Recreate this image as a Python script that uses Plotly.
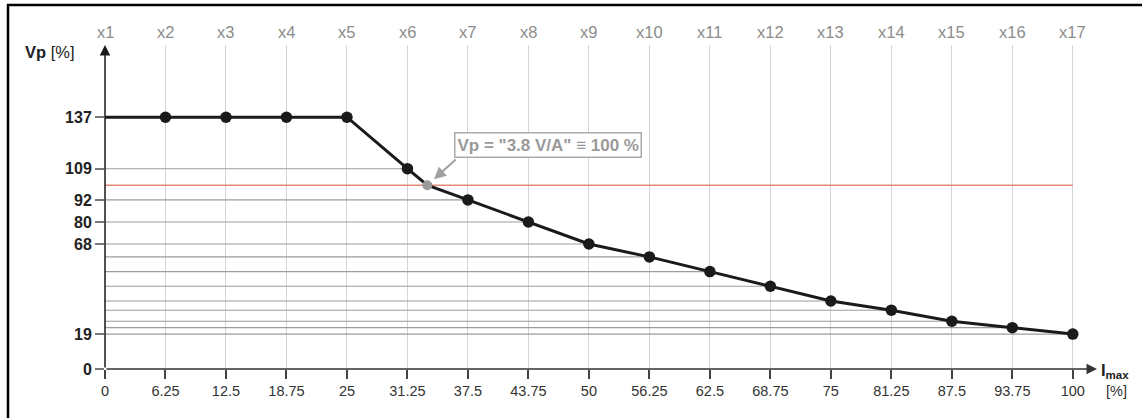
import plotly.graph_objects as go

# ---------------- data ----------------
x_pos = [0, 6.25, 12.5, 18.75, 25, 31.25, 37.5, 43.75, 50, 56.25, 62.5, 68.75, 75, 81.25, 87.5, 93.75, 100]
x_tick_text = ["0", "6.25", "12.5", "18.75", "25", "31.25", "37.5", "43.75", "50", "56.25",
               "62.5", "68.75", "75", "81.25", "87.5", "93.75", "100"]
top_labels = ["x1", "x2", "x3", "x4", "x5", "x6", "x7", "x8", "x9", "x10",
              "x11", "x12", "x13", "x14", "x15", "x16", "x17"]
vp = [137, 137, 137, 137, 137, 109, 92, 80, 68, 61, 53, 45, 37, 32, 26, 22.5, 19]
y_tick_vals = [0, 19, 68, 80, 92, 109, 137]
nominal_x = 33.3
nominal_vp = 100
nominal_text = 'Vp = "3.8 V/A" \u2261 100 %'

# ---------------- geometry ----------------
W, H = 1142, 418
ML, MR, MT, MB = 105, 45, 45, 49
X_MAX = 102.5
Y_MAX = 176.3
PW, PH = W - ML - MR, H - MT - MB


def px_x(p):
    return (p - ML) / PW


def px_y(p):
    return (H - MB - p) / PH


FONT = "Liberation Sans, Arial, sans-serif"

fig = go.Figure()

# horizontal reference lines from y axis to each point
ref_x, ref_y = [], []
for xi, yi in zip(x_pos, vp):
    if yi < 137:
        ref_x += [0, xi, None]
        ref_y += [yi, yi, None]
fig.add_trace(go.Scatter(x=ref_x, y=ref_y, mode="lines",
                         line=dict(color="#9c9c9c", width=1.1), hoverinfo="skip"))

# 100 % line
fig.add_trace(go.Scatter(x=[0, x_pos[-1]], y=[nominal_vp, nominal_vp], mode="lines",
                         line=dict(color="#e68a76", width=1.6), hoverinfo="skip"))

# main curve
idx = next(i for i, v in enumerate(x_pos) if v > nominal_x)
line_x = x_pos[:idx] + [nominal_x] + x_pos[idx:]
line_y = vp[:idx] + [nominal_vp] + vp[idx:]
fig.add_trace(go.Scatter(x=line_x, y=line_y, mode="lines",
                         line=dict(color="#1a1a1a", width=3), hoverinfo="skip"))

# markers
fig.add_trace(go.Scatter(x=x_pos[1:], y=vp[1:], mode="markers",
                         marker=dict(color="#1a1a1a", size=11.5), hoverinfo="skip"))
fig.add_trace(go.Scatter(x=[nominal_x], y=[nominal_vp], mode="markers",
                         marker=dict(color="#9a9a9a", size=10), hoverinfo="skip"))

annotations = []
# axis arrows (axis lines with arrow heads)
annotations.append(dict(x=0, y=Y_MAX, ax=0, ay=0, xref="x", yref="y", axref="x", ayref="y",
                        text="", showarrow=True, arrowhead=2, arrowsize=1.4, arrowwidth=1.5,
                        arrowcolor="#1a1a1a"))
annotations.append(dict(x=X_MAX, y=0, ax=0, ay=0, xref="x", yref="y", axref="x", ayref="y",
                        text="", showarrow=True, arrowhead=2, arrowsize=1.4, arrowwidth=1.5,
                        arrowcolor="#333333"))

# top labels
for xi, lab in zip(x_pos, top_labels):
    annotations.append(dict(x=xi, y=px_y(32), xref="x", yref="paper", text=lab,
                            showarrow=False, xanchor="center", yanchor="middle",
                            font=dict(family=FONT, size=16.5, color="#8c8c8c")))

# axis titles
annotations.append(dict(x=px_x(23), y=px_y(52), xref="paper", yref="paper",
                        text="<b>Vp</b> [%]", showarrow=False, xanchor="left", yanchor="middle",
                        font=dict(family=FONT, size=16.5, color="#222222")))
annotations.append(dict(x=px_x(1099), y=px_y(371), xref="paper", yref="paper",
                        text="<b>I<sub>max</sub></b>", showarrow=False, xanchor="left",
                        yanchor="middle", font=dict(family=FONT, size=16.5, color="#222222")))
annotations.append(dict(x=px_x(1104), y=px_y(391), xref="paper", yref="paper",
                        text="[%]", showarrow=False, xanchor="left", yanchor="middle",
                        font=dict(family=FONT, size=14.5, color="#333333")))

# nominal annotation box
annotations.append(dict(x=45.8, y=121.9, xref="x", yref="y", text="<b>" + nominal_text + "</b>",
                        showarrow=False, xanchor="center", yanchor="middle",
                        bgcolor="white", bordercolor="#aaaaaa", borderwidth=1.5, borderpad=2,
                        font=dict(family=FONT, size=17, color="#9a9a9a")))
annotations.append(dict(x=nominal_x, y=nominal_vp, ax=36.4, ay=114.7, xref="x", yref="y",
                        axref="x", ayref="y", text="", showarrow=True, arrowhead=2,
                        arrowsize=1.2, arrowwidth=2, arrowcolor="#a0a0a0", standoff=9))

shapes = [
    dict(type="line", xref="paper", yref="paper", x0=px_x(8), x1=px_x(8), y0=px_y(4), y1=px_y(H),
         line=dict(color="black", width=2.5)),
    dict(type="line", xref="paper", yref="paper", x0=px_x(7), x1=px_x(W), y0=px_y(5), y1=px_y(5),
         line=dict(color="black", width=2.5)),
]

fig.update_layout(
    width=W, height=H,
    margin=dict(l=ML, r=MR, t=MT, b=MB, pad=0),
    plot_bgcolor="white", paper_bgcolor="white",
    showlegend=False,
    font=dict(family=FONT),
    annotations=annotations,
    shapes=shapes,
    xaxis=dict(range=[0, X_MAX], tickvals=x_pos, ticktext=x_tick_text, showgrid=True,
               gridcolor="#d4d4d4", gridwidth=1, zeroline=False, showline=False,
               ticks="outside", ticklen=9, tickwidth=1.5, tickcolor="#444444",
               tickfont=dict(family=FONT, size=14.5, color="#333333"), fixedrange=True),
    yaxis=dict(range=[0, Y_MAX], tickvals=y_tick_vals, ticktext=[str(v) for v in y_tick_vals],
               showgrid=False, zeroline=False, showline=False,
               ticks="outside", ticklen=9, tickwidth=1.5, tickcolor="#777777",
               tickfont=dict(family=FONT, size=16, color="#222222", weight="bold"),
               fixedrange=True),
)

fig.write_html("out.html")
